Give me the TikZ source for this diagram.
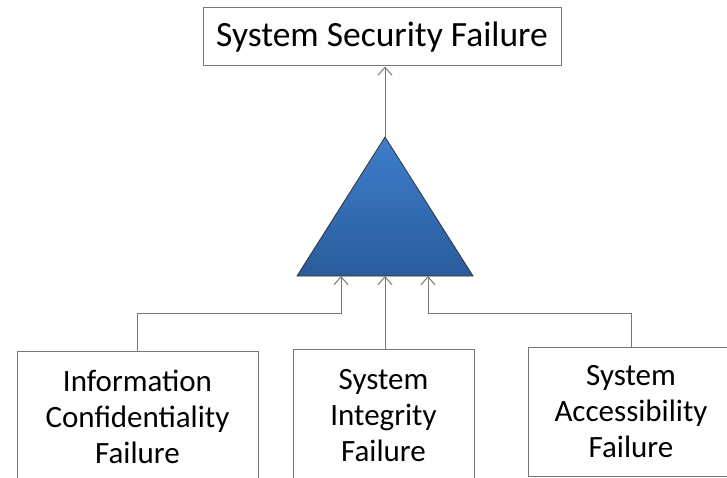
\documentclass[tikz,border=0pt]{standalone}
\usepackage{fontspec}
\setmainfont{Carlito}
\usepackage{tikz}
\usetikzlibrary{shapes,arrows,arrows.meta,positioning}

\definecolor{gateTop}{RGB}{62,126,204}
\definecolor{gateBot}{RGB}{42,92,156}
\definecolor{lineGray}{RGB}{120,120,120}

\tikzset{
	failbox/.style={draw=lineGray, line width=1pt, rectangle, align=center, inner sep=0pt, font=\fontsize{31}{36}\selectfont},
	link/.style={draw=lineGray, line width=1pt, -{Straight Barb[length=8pt,width=14pt,line width=1pt]}}
}

\begin{document}
\begin{tikzpicture}[x=1pt, y=-1pt]
				\useasboundingbox (0,0) rectangle (727,478);
				\clip (0,0) rectangle (727,478);
				% top event
				\node [failbox, minimum width=358pt, minimum height=58pt, font=\fontsize{35.5}{40}\selectfont] (sys) at (382,37) {System Security Failure};
				% or-gate triangle
				\coordinate (apex) at (385,137);
				\coordinate (baseL) at (297,276);
				\coordinate (baseR) at (473,276);
				\coordinate (inL) at (341,276);
				\coordinate (inM) at (385,276);
				\coordinate (inR) at (428,276);
				\coordinate (bus) at (0,313);
				\shade [top color=gateTop, bottom color=gateBot, draw=black!80, line width=0.8pt, line join=miter] (apex) -- (baseR) -- (baseL) -- cycle;
				% basic events
				\node [failbox, minimum width=241pt, minimum height=131pt] (conf) at (137.5,416.5) {Information\\Confidentiality\\Failure};
				\node [failbox, minimum width=181pt, minimum height=133pt] (integ) at (383.5,415.5) {System\\Integrity\\Failure};
				\node [failbox, minimum width=206pt, minimum height=129pt] (access) at (631,411.5) {System\\Accessibility\\Failure};
				% connections
				\draw [link] (apex) -- (apex |- sys.south);
				\draw [link] (conf.north) -- (conf.north |- bus) -| (inL);
				\draw [link] (inM |- integ.north) -- (inM);
				\draw [link] (access.north) -- (access.north |- bus) -| (inR);
				\end{tikzpicture}
\end{document}
